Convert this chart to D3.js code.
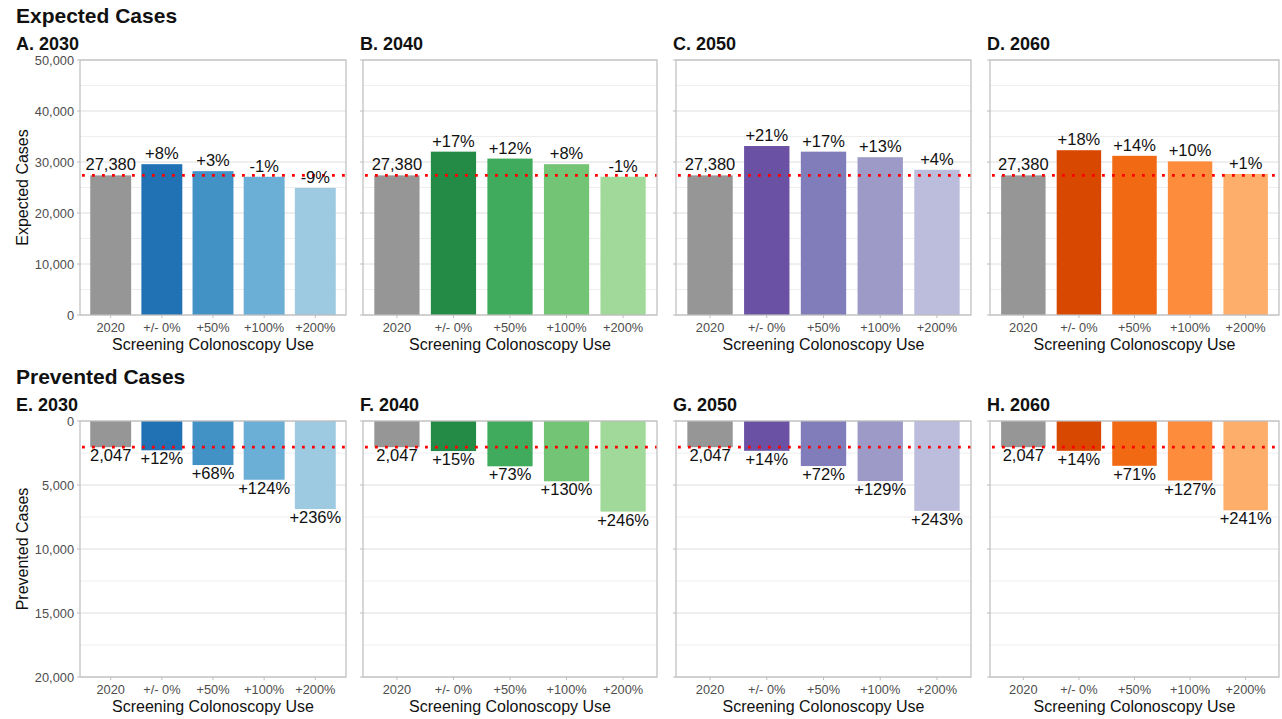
<!DOCTYPE html>
<html>
<head>
<meta charset="utf-8">
<script src="https://cdn.jsdelivr.net/npm/d3@7"></script>
<style>
  body { margin: 0; background: #fff; }
  svg { font-family: "Liberation Sans", Arial, sans-serif; }
</style>
</head>
<body>
<script>
// categories + years
const categories = ['2020', '+/- 0%', '+50%', '+100%', '+200%']
const years = ['2030', '2040', '2050', '2060']

// expected cases
const expected2030 = [27380, 29570, 28200, 27110, 24920]
const expected2040 = [27380, 32030, 30670, 29570, 27110]
const expected2050 = [27380, 33130, 32030, 30940, 28480]
const expected2060 = [27380, 32310, 31210, 30120, 27650]
const expectedLabels2030 = ['27,380', '+8%', '+3%', '-1%', '-9%']
const expectedLabels2040 = ['27,380', '+17%', '+12%', '+8%', '-1%']
const expectedLabels2050 = ['27,380', '+21%', '+17%', '+13%', '+4%']
const expectedLabels2060 = ['27,380', '+18%', '+14%', '+10%', '+1%']

// prevented cases
const prevented2030 = [2047, 2290, 3440, 4590, 6880]
const prevented2040 = [2047, 2350, 3540, 4710, 7080]
const prevented2050 = [2047, 2330, 3520, 4690, 7020]
const prevented2060 = [2047, 2330, 3500, 4650, 6980]
const preventedLabels2030 = ['2,047', '+12%', '+68%', '+124%', '+236%']
const preventedLabels2040 = ['2,047', '+15%', '+73%', '+130%', '+246%']
const preventedLabels2050 = ['2,047', '+14%', '+72%', '+129%', '+243%']
const preventedLabels2060 = ['2,047', '+14%', '+71%', '+127%', '+241%']

const expectedTicks = [0, 10000, 20000, 30000, 40000, 50000]
const preventedTicks = [0, 5000, 10000, 15000, 20000]

const palettes = [
    ['#969696', '#2171b5', '#4292c6', '#6baed6', '#9ecae1'],
    ['#969696', '#238b45', '#41ab5d', '#74c476', '#a1d99b'],
    ['#969696', '#6a51a3', '#807dba', '#9e9ac8', '#bcbddc'],
    ['#969696', '#d94801', '#f16913', '#fd8d3c', '#fdae6b']
]

const W = 1282, H = 719
const svg = d3.select('body').append('svg').attr('width', W).attr('height', H)

// panel columns (pixel)
const cols = [[80, 346], [363, 657], [676, 971], [990, 1279]]

function drawPanel(ci, rowTop, rowBottom, values, labels, ticks, maxV, reversed, letter, yTitle) {
    const [x0, x1] = cols[ci]
    // ggplot style discrete axis: 0.6 expand each side, bar 0.8 of step
    const step = (x1 - x0) / 5.2
    const x = d3.scalePoint().domain(categories).range([x0 + step * 0.6, x1 - step * 0.6])
    const y = d3.scaleLinear().domain([0, maxV]).range(reversed ? [rowTop, rowBottom] : [rowBottom, rowTop])
    const g = svg.append('g')

    // grid
    const minor = d3.range(0, maxV + 1, ticks[1] / 2).filter(v => !ticks.includes(v))
    g.selectAll('.minor').data(minor).enter().append('line')
        .attr('x1', x0).attr('x2', x1).attr('y1', d => y(d)).attr('y2', d => y(d))
        .attr('stroke', '#eeeeee').attr('stroke-width', 1)
    g.selectAll('.major').data(ticks).enter().append('line')
        .attr('x1', x0).attr('x2', x1).attr('y1', d => y(d)).attr('y2', d => y(d))
        .attr('stroke', '#dedede').attr('stroke-width', 1)

    // bars
    g.selectAll('rect.bar').data(values).enter().append('rect')
        .attr('x', (d, i) => x(categories[i]) - step * 0.4)
        .attr('width', step * 0.8)
        .attr('y', d => reversed ? y(0) : y(d))
        .attr('height', d => Math.abs(y(d) - y(0)))
        .attr('fill', (d, i) => palettes[ci][i])

    // red dotted reference line
    g.append('line')
        .attr('x1', x0 + 2).attr('x2', x1)
        .attr('y1', y(values[0])).attr('y2', y(values[0]))
        .attr('stroke', '#ff0000').attr('stroke-width', 2.8)
        .attr('stroke-dasharray', '2.8,7.2')

    // bar labels
    g.selectAll('text.lab').data(values).enter().append('text')
        .attr('x', (d, i) => x(categories[i]))
        .attr('y', d => reversed ? y(d) + 14 : y(d) - 5)
        .attr('text-anchor', 'middle')
        .attr('font-size', 16.5)
        .attr('fill', '#111')
        .text((d, i) => labels[i])

    // border
    g.append('rect').attr('x', x0).attr('y', rowTop).attr('width', x1 - x0).attr('height', rowBottom - rowTop)
        .attr('fill', 'none').attr('stroke', '#bdbdbd').attr('stroke-width', 1.2)

    // y ticks
    g.selectAll('.yt').data(ticks).enter().append('line')
        .attr('x1', x0 - 3).attr('x2', x0).attr('y1', d => y(d)).attr('y2', d => y(d))
        .attr('stroke', '#bdbdbd')
    if (ci === 0) {
        g.selectAll('.ytl').data(ticks).enter().append('text')
            .attr('x', x0 - 6).attr('y', d => y(d) + 4.5)
            .attr('text-anchor', 'end').attr('font-size', 12.8).attr('fill', '#4d4d4d')
            .text(d => d3.format(',')(d))
        g.append('text')
            .attr('transform', `translate(28,${(rowTop + rowBottom) / 2}) rotate(-90)`)
            .attr('text-anchor', 'middle').attr('font-size', 16).attr('fill', '#111')
            .text(yTitle)
    }

    // x ticks + labels
    g.selectAll('.xt').data(categories).enter().append('line')
        .attr('x1', d => x(d)).attr('x2', d => x(d))
        .attr('y1', rowBottom).attr('y2', rowBottom + 3)
        .attr('stroke', '#bdbdbd')
    g.selectAll('.xtl').data(categories).enter().append('text')
        .attr('x', d => x(d)).attr('y', rowBottom + 17)
        .attr('text-anchor', 'middle').attr('font-size', 12.8).attr('fill', '#4d4d4d')
        .text(d => d)
    g.append('text')
        .attr('x', (x0 + x1) / 2).attr('y', rowBottom + 35)
        .attr('text-anchor', 'middle').attr('font-size', 16).attr('fill', '#111')
        .text('Screening Colonoscopy Use')

    // panel title
    g.append('text')
        .attr('x', ci === 0 ? 16 : x0 - 3).attr('y', rowTop - 10)
        .attr('font-size', 18).attr('font-weight', 'bold').attr('fill', '#111')
        .text(letter + '. ' + years[ci])
}

const expectedAll = [expected2030, expected2040, expected2050, expected2060]
const expectedLabs = [expectedLabels2030, expectedLabels2040, expectedLabels2050, expectedLabels2060]
const preventedAll = [prevented2030, prevented2040, prevented2050, prevented2060]
const preventedLabs = [preventedLabels2030, preventedLabels2040, preventedLabels2050, preventedLabels2060]

svg.append('text').attr('x', 16).attr('y', 23).attr('font-size', 21).attr('font-weight', 'bold')
    .attr('fill', '#111').text('Expected Cases')
svg.append('text').attr('x', 16).attr('y', 384).attr('font-size', 21).attr('font-weight', 'bold')
    .attr('fill', '#111').text('Prevented Cases')

expectedAll.forEach((v, i) => drawPanel(i, 60, 315, v, expectedLabs[i], expectedTicks, 50000, false, 'ABCD'[i], 'Expected Cases'))
preventedAll.forEach((v, i) => drawPanel(i, 421, 677, v, preventedLabs[i], preventedTicks, 20000, true, 'EFGH'[i], 'Prevented Cases'))
</script>
</body>
</html>
